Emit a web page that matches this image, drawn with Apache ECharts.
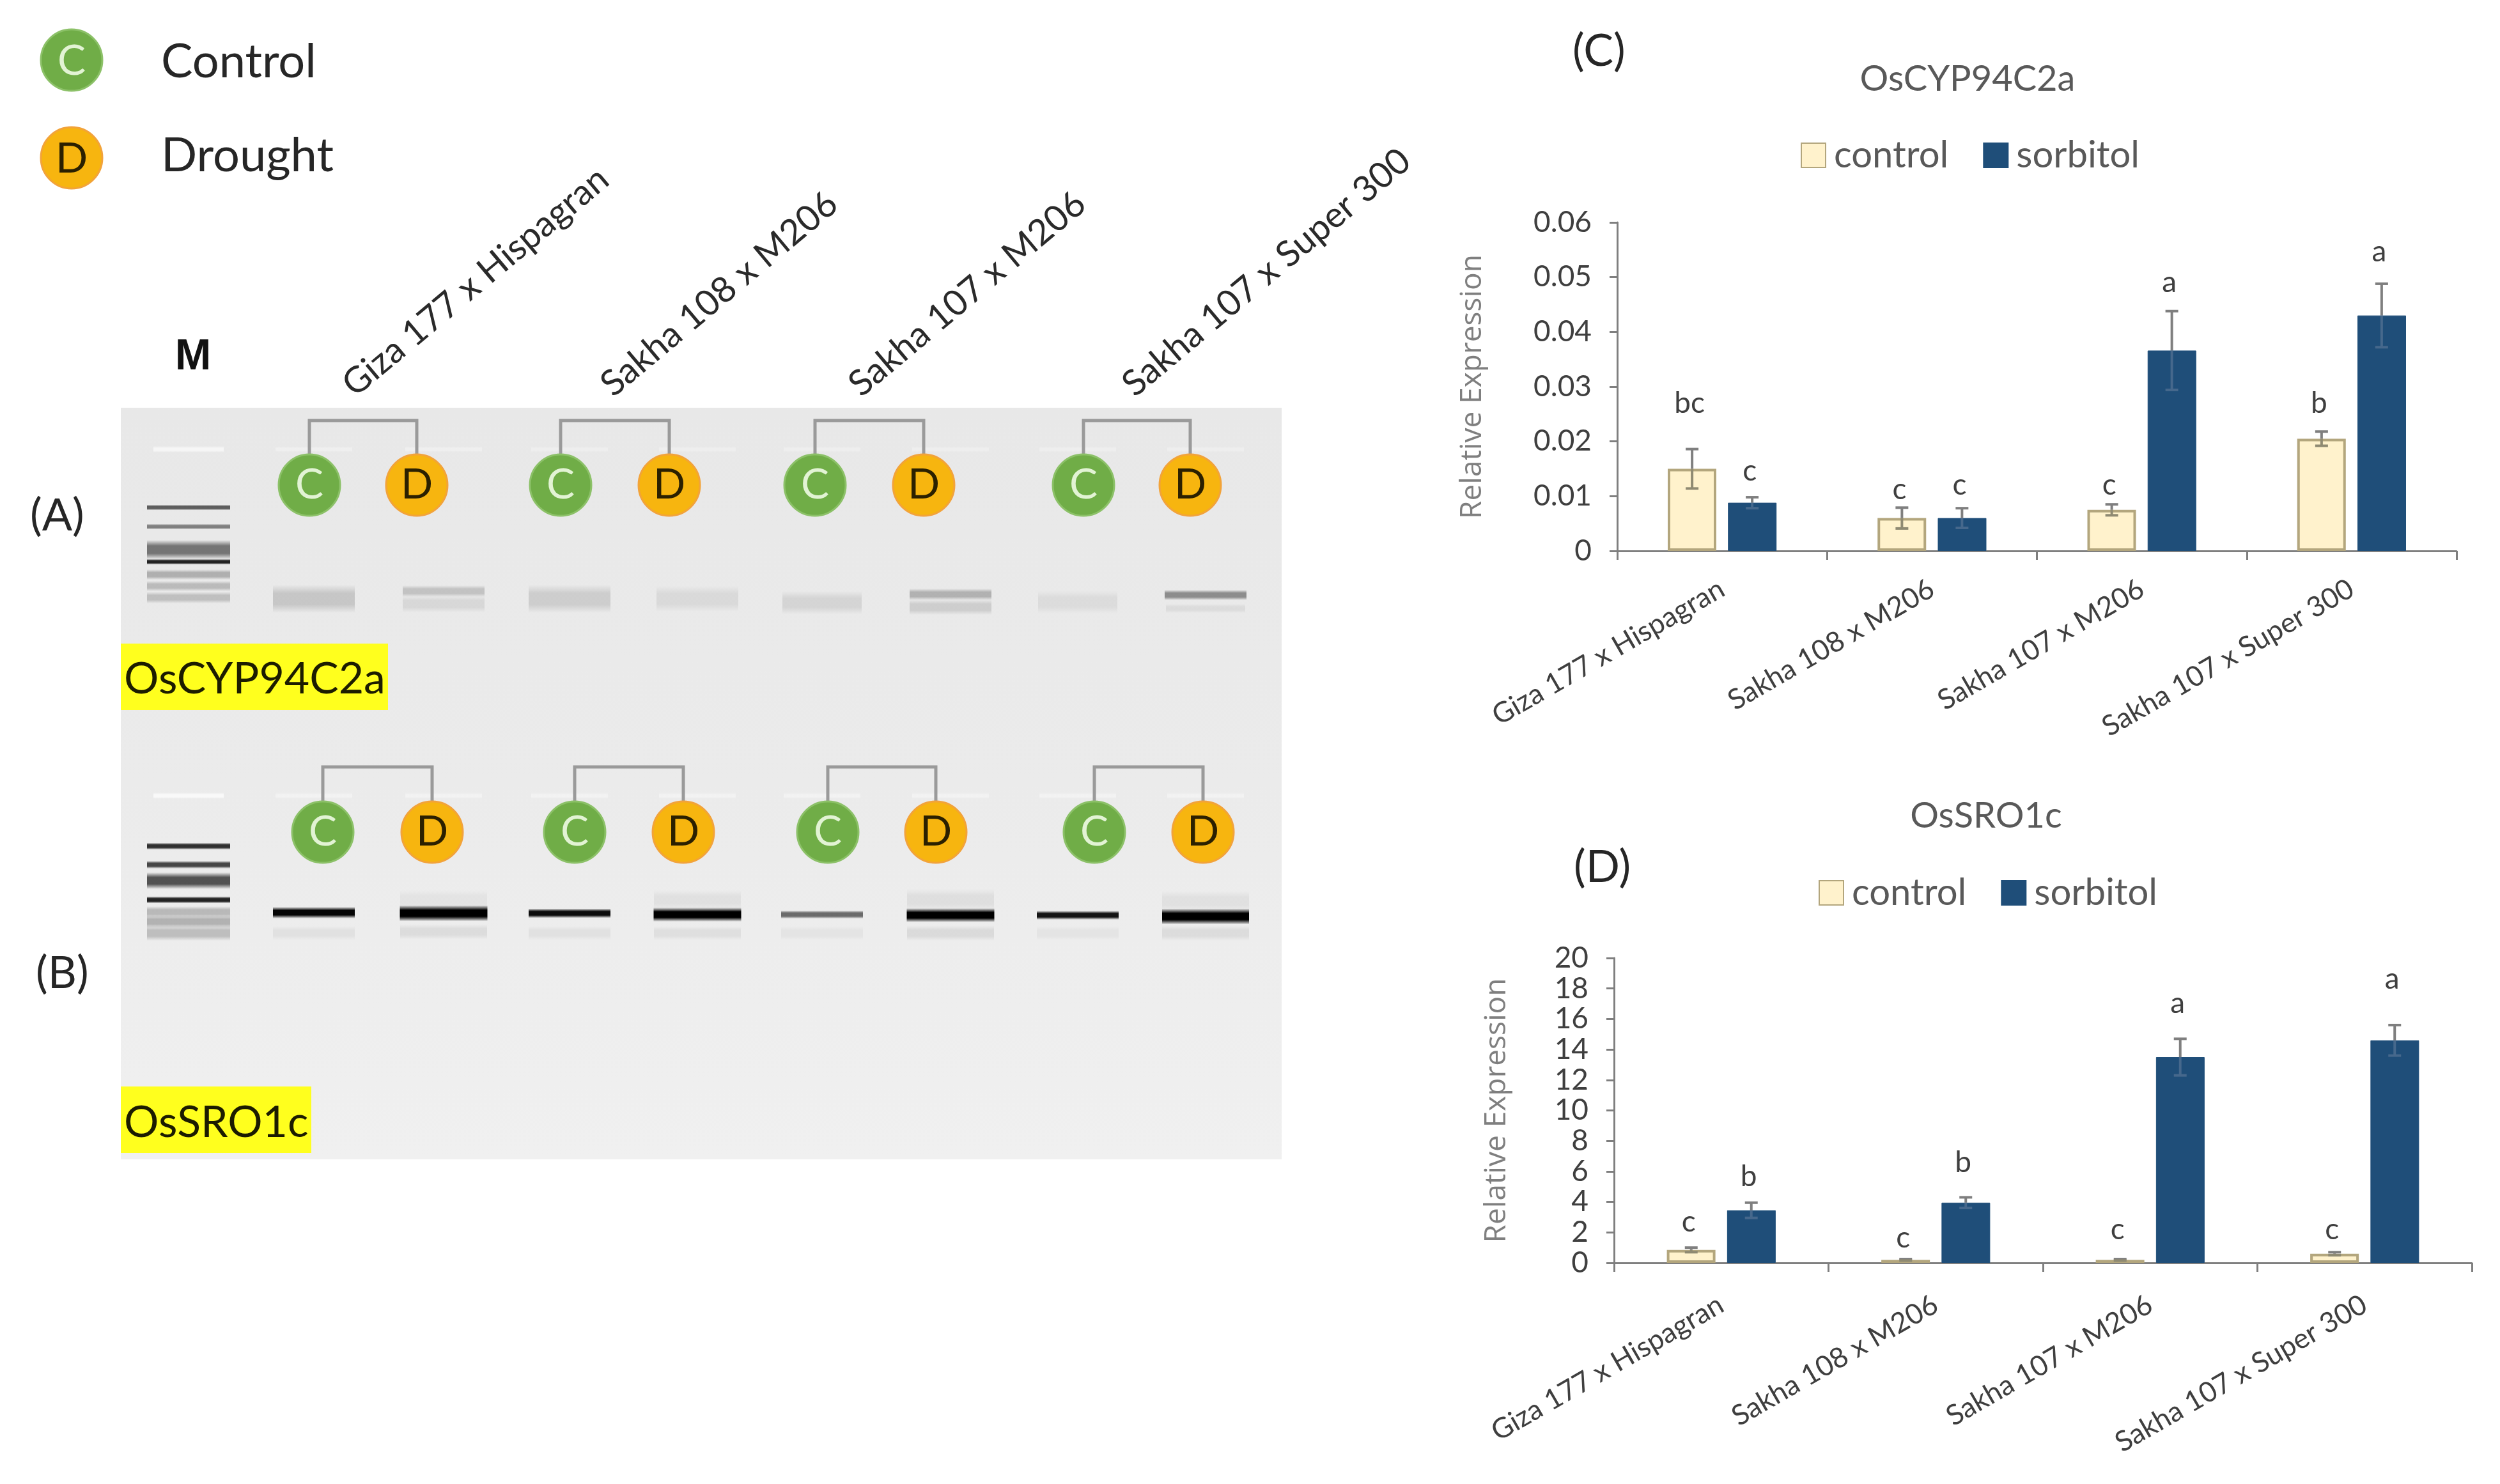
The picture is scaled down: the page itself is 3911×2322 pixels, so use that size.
<!DOCTYPE html>
<html>
<head>
<meta charset="utf-8">
<style>html,body{margin:0;padding:0;background:#fff}#chart{width:3911px;height:2322px}</style>
<script src="https://cdn.jsdelivr.net/npm/echarts@6/dist/echarts.min.js"></script>
</head>
<body>
<div id="chart"></div>
<script>
// ---------- data ----------
const categories = ['Giza 177 x Hispagran', 'Sakha 108 x M206', 'Sakha 107 x M206', 'Sakha 107 x Super 300'];
const seriesNames = ['control', 'sorbitol'];

const cypControl = [0.015, 0.006, 0.0075, 0.0205];
const cypSorbitol = [0.0088, 0.006, 0.0366, 0.043];
const cypControlErr = [0.0036, 0.0019, 0.001, 0.0013];
const cypSorbitolErr = [0.001, 0.0018, 0.0072, 0.0058];
const cypControlLetters = ['bc', 'c', 'c', 'b'];
const cypSorbitolLetters = ['c', 'c', 'a', 'a'];
const cypControlLetterAt = [0.027, 0.0112, 0.012, 0.027];
const cypSorbitolLetterAt = [0.0146, 0.012, 0.049, 0.0546];
const cypTicks = [0, 0.01, 0.02, 0.03, 0.04, 0.05, 0.06];

const sroControl = [0.85, 0.2, 0.2, 0.6];
const sroSorbitol = [3.45, 3.95, 13.5, 14.6];
const sroControlErr = [0.15, 0.05, 0.05, 0.1];
const sroSorbitolErr = [0.5, 0.35, 1.2, 1.0];
const sroControlLetters = ['c', 'c', 'c', 'c'];
const sroSorbitolLetters = ['b', 'b', 'a', 'a'];
const sroControlLetterAt = [2.67, 1.62, 2.16, 2.16];
const sroSorbitolLetterAt = [5.67, 6.58, 17.0, 18.6];
const sroTicks = [0, 2, 4, 6, 8, 10, 12, 14, 16, 18, 20];

// gel: lane centre, migration distance, band thickness, darkness, band width (gel units)
const gelBands = [
  // panel A ladder
  [106,156,9,.6,130],[106,186,9,.45,130],[106,222,30,.5,130],[106,241,9,.85,130],[106,261,16,.25,130],[106,279,16,.2,130],[106,297,18,.18,130],
  // panel A samples
  [302,299,44,.15,128],[505,287,18,.17,128],[505,307,26,.08,128],[702,299,44,.12,128],[902,299,40,.07,128],
  [1097,305,36,.09,124],[1298,292,18,.24,128],[1298,312,24,.12,128],[1497,304,36,.06,124],[1697,293,16,.4,128],[1697,314,14,.06,124],
  // panel B ladder
  [106,686,11,.8,130],[106,715,12,.7,130],[106,740,26,.65,130],[106,770,11,.85,130],[106,789,18,.22,130],[106,804,20,.25,130],[106,822,24,.2,130],
  // panel B smears
  [302,822,22,.05,128],[505,820,24,.07,136],[702,822,22,.05,128],[902,822,22,.06,136],[1097,822,22,.04,128],[1298,822,24,.08,136],[1497,822,22,.04,128],[1697,822,24,.07,136],
  [505,770,30,.04,136],[902,770,30,.05,136],[1298,770,34,.06,136],[1697,772,32,.05,136],
  // panel B samples
  [302,790,18,.98,128],[505,791,25,1,137],[702,791,15,.95,128],[902,793,22,1,137],[1097,793,13,.55,128],[1298,794,22,1,137],[1497,794,14,.92,128],[1697,796,25,1,136]
];
// sample wells, paler than the gel: lane centre, distance, thickness, strength, width
const gelWells = [
  [106,65,10,.6,110],[302,65,9,.3,120],[505,65,9,.3,120],[702,65,9,.25,120],[902,65,9,.25,120],[1097,65,9,.25,120],[1298,65,9,.25,120],[1497,65,9,.25,120],[1697,65,9,.25,120],
  [106,607,10,.7,110],[302,607,10,.35,120],[505,607,10,.35,120],[702,607,10,.35,120],[902,607,10,.35,120],[1097,607,10,.35,120],[1298,607,10,.35,120],[1497,607,10,.35,120],[1697,607,10,.35,120]
];
// C / D tag positions (gel units)
const tagsC = [[295,121],[688,121],[1086,121],[1506,121],[316,664],[710,664],[1106,664],[1523,664]];
const tagsD = [[463,121],[858,121],[1256,121],[1673,121],[487,664],[880,664],[1275,664],[1693,664]];
const bracketTop = [20, 20, 20, 20, 562, 562, 562, 562];

const gelLabels = categories;
const legendLabels = ['Control', 'Drought'];

// ---------- styles ----------
const FONT = 'Lato';
const TEXT = '#3f3f3f';
const GREY = '#595959';
const GREEN = '#70ad47';
const ORANGE = '#f7b50f';
const NAVY = '#1f4e79';
const CREAM = '#fff2cc';
const CREAM_EDGE = '#b3a67d';
const BAR_OFFSET = 47;

function errSeries(idx, side, vals, errs, letters, at) {
  return {
    type: 'custom', xAxisIndex: idx, yAxisIndex: idx, z: 5, silent: true,
    data: vals.map((v, i) => [i, v, errs[i], at[i], letters[i]]),
    encode: { x: 0, y: 1 },
    renderItem(p, api) {
      const c = api.coord([api.value(0), api.value(1)]);
      const x = c[0] + side * BAR_OFFSET;
      const hi = api.coord([0, api.value(1) + api.value(2)])[1];
      const lo = api.coord([0, api.value(1) - api.value(2)])[1];
      const ly = api.coord([0, api.value(3)])[1];
      const st = { stroke: '#7f7f7f', lineWidth: 4, fill: null };
      const under = { stroke: side > 0 ? '#46688c' : '#8f8a72', lineWidth: 4, fill: null };
      return { type: 'group', children: [
        { type: 'line', shape: { x1: x, y1: hi, x2: x, y2: c[1] }, style: st },
        { type: 'line', shape: { x1: x, y1: c[1], x2: x, y2: lo }, style: under },
        { type: 'line', shape: { x1: x - 10, y1: hi, x2: x + 10, y2: hi }, style: st },
        { type: 'line', shape: { x1: x - 10, y1: lo, x2: x + 10, y2: lo }, style: under },
        { type: 'text', x: x - 4, y: ly, style: { text: letters[p.dataIndex], fontFamily: FONT, fontSize: 46, fill: TEXT, align: 'center', verticalAlign: 'middle', textAlign: 'center', textVerticalAlign: 'middle' } }
      ] };
    }
  };
}
function bars(idx, name, vals, style) {
  return { type: 'bar', name, xAxisIndex: idx, yAxisIndex: idx, data: vals, barWidth: 76, barGap: '24%', itemStyle: style };
}
const ctrlStyle = { color: CREAM, borderColor: CREAM_EDGE, borderWidth: 4 };
const sorbStyle = { color: NAVY, borderColor: NAVY, borderWidth: 1 };

function xAxisFor(idx, margin, size) {
  return {
    type: 'category', gridIndex: idx, data: categories,
    axisLine: { lineStyle: { color: '#7f7f7f', width: 3 } },
    axisTick: { show: true, alignWithLabel: false, length: 14, lineStyle: { color: '#7f7f7f', width: 3 } },
    axisLabel: { rotate: 30, interval: 0, margin, fontFamily: FONT, fontSize: size, color: TEXT }
  };
}
function yAxisFor(idx, ticks, gap) {
  return {
    type: 'value', gridIndex: idx, min: ticks[0], max: ticks[ticks.length - 1], interval: ticks[1] - ticks[0],
    name: 'Relative Expression', nameLocation: 'middle', nameGap: gap,
    nameTextStyle: { fontFamily: 'Open Sans', fontSize: 46, color: '#7f7f7f' },
    splitLine: { show: false },
    axisLine: { show: true, lineStyle: { color: '#7f7f7f', width: 3 } },
    axisTick: { show: true, length: 12, lineStyle: { color: '#7f7f7f', width: 3 } },
    axisLabel: { margin: 40, fontFamily: FONT, fontSize: 46, color: TEXT, formatter: v => String(+v.toFixed(2)) }
  };
}
function legendAt(left, top) {
  return {
    left, top, orient: 'horizontal', data: seriesNames.map(name => ({ name, icon: 'rect' })), itemWidth: 38, itemHeight: 38, itemGap: 54, selectedMode: false,
    textStyle: { fontFamily: FONT, fontSize: 58, color: GREY, padding: [0, 0, 0, 8] }
  };
}
function gelBand(color) {
  return function (p, api) {
    const c = api.coord([api.value(0), api.value(1)]);
    const sx = api.size([1, 0])[0], sy = api.size([0, 1])[1];
    const w = api.value(4) * sx, h = api.value(2) * sy;
    const a = api.value(3);
    const col = o => `rgba(${color},${o})`;
    return { type: 'rect', shape: { x: c[0] - w / 2, y: c[1] - h / 2, width: w, height: h },
      style: { fill: { type: 'linear', x: 0, y: 0, x2: 0, y2: 1, colorStops: [
        { offset: 0, color: col(0) }, { offset: .3, color: col(a) }, { offset: .7, color: col(a) }, { offset: 1, color: col(0) }] } } };
  };
}
function gelTags(data, letter, fill, textCol, edge) {
  return {
    type: 'scatter', xAxisIndex: 2, yAxisIndex: 2, z: 6, silent: true, symbol: 'circle', symbolSize: 96, data,
    itemStyle: { color: fill, borderColor: edge, borderWidth: 3, opacity: 1 },
    label: { show: true, position: 'inside', formatter: letter, fontFamily: FONT, fontSize: 66, color: textCol }
  };
}
const bracketSeries = {
  type: 'custom', xAxisIndex: 2, yAxisIndex: 2, z: 4, silent: true,
  data: tagsC.map((c, i) => [c[0], c[1], tagsD[i][0], bracketTop[i]]),
  encode: { x: 0, y: 1 },
  renderItem(p, api) {
    const a = api.coord([api.value(0), api.value(1)]);
    const b = api.coord([api.value(2), api.value(1)]);
    const t = api.coord([0, api.value(3)])[1];
    return { type: 'polyline', shape: { points: [[a[0], a[1]], [a[0], t], [b[0], t], [b[0], b[1]]] },
      style: { stroke: '#9a9a9a', lineWidth: 5, fill: null } };
  }
};

function txt(text, x, y, size, opt) {
  opt = opt || {};
  const al = opt.align || 'left';
  return { type: 'text', x, y, rotation: opt.rotation || 0, z: 20, silent: true,
    style: { text, fontFamily: opt.family || FONT, fontSize: size, fontWeight: opt.weight || 'normal', fill: opt.fill || '#262626',
      align: al, verticalAlign: 'middle', textAlign: al, textVerticalAlign: 'middle' } };
}
const ROT = 40 * Math.PI / 180;
const gelLabelStart = [[544, 609], [948, 609], [1336, 609], [1764, 609]];

const graphic = [
  { type: 'circle', shape: { cx: 112, cy: 94, r: 48 }, z: 20, silent: true, style: { fill: GREEN, stroke: '#8cc168', lineWidth: 3 } },
  { type: 'circle', shape: { cx: 112, cy: 247, r: 48 }, z: 20, silent: true, style: { fill: ORANGE, stroke: '#f2a33a', lineWidth: 3 } },
  txt('C', 112, 96, 66, { align: 'center', fill: '#e2f3d4' }),
  txt('D', 112, 249, 66, { align: 'center', fill: '#2b2000' }),
  txt(legendLabels[0], 252, 97, 74),
  txt(legendLabels[1], 252, 244, 74),
  txt('M', 302, 559, 68, { align: 'center', weight: 'bold', fill: '#111', family: 'Liberation Sans' }),
  txt('(A)', 47, 807, 70),
  txt('(B)', 56, 1523, 70),
  txt('(C)', 2460, 80, 70),
  txt('(D)', 2462, 1357, 70),
  { type: 'rect', shape: { x: 189, y: 1007, width: 418, height: 104 }, z: 19, silent: true, style: { fill: '#ffff1e' } },
  { type: 'rect', shape: { x: 189, y: 1700, width: 298, height: 104 }, z: 19, silent: true, style: { fill: '#ffff1e' } },
  txt('OsCYP94C2a', 194, 1063, 68, { fill: '#1c1c00' }),
  txt('OsSRO1c', 194, 1757, 68, { fill: '#1c1c00' })
].concat(gelLabels.map((t, i) => txt(t, gelLabelStart[i][0], gelLabelStart[i][1], 56, { rotation: ROT, fill: '#2a2a2a' })));

const option = {
  animation: false,
  backgroundColor: '#ffffff',
  title: [
    { text: 'OsCYP94C2a', left: 3073, top: 91, textAlign: 'center', textStyle: { fontFamily: FONT, fontSize: 56, fontWeight: 'normal', color: GREY } },
    { text: 'OsSRO1c', left: 3102, top: 1244, textAlign: 'center', textStyle: { fontFamily: FONT, fontSize: 56, fontWeight: 'normal', color: GREY } }
  ],
  legend: [legendAt(2812, 209), legendAt(2840, 1363)],
  grid: [
    { left: 2530, top: 348, width: 1313, height: 514 },
    { left: 2525, top: 1499, width: 1342, height: 477 },
    { left: 189, top: 638, width: 1816, height: 1176, show: true, borderWidth: 0,
      backgroundColor: { type: 'linear', x: 0, y: 0, x2: 0, y2: 1, colorStops: [{ offset: 0, color: '#e8e8e8' }, { offset: .5, color: '#ebebeb' }, { offset: 1, color: '#f0f0f0' }] } }
  ],
  xAxis: [xAxisFor(0, 56, 44), xAxisFor(1, 62, 44), { type: 'value', gridIndex: 2, min: 0, max: 1816, show: false }],
  yAxis: [yAxisFor(0, cypTicks, 203), yAxisFor(1, sroTicks, 160), { type: 'value', gridIndex: 2, min: 0, max: 1176, inverse: true, show: false }],
  series: [
    bars(0, 'control', cypControl, ctrlStyle),
    bars(0, 'sorbitol', cypSorbitol, sorbStyle),
    errSeries(0, -1, cypControl, cypControlErr, cypControlLetters, cypControlLetterAt),
    errSeries(0, 1, cypSorbitol, cypSorbitolErr, cypSorbitolLetters, cypSorbitolLetterAt),
    bars(1, 'control', sroControl, ctrlStyle),
    bars(1, 'sorbitol', sroSorbitol, sorbStyle),
    errSeries(1, -1, sroControl, sroControlErr, sroControlLetters, sroControlLetterAt),
    errSeries(1, 1, sroSorbitol, sroSorbitolErr, sroSorbitolLetters, sroSorbitolLetterAt),
    { type: 'custom', xAxisIndex: 2, yAxisIndex: 2, z: 2, silent: true, data: gelWells, encode: { x: 0, y: 1 }, renderItem: gelBand('255,255,255') },
    { type: 'custom', xAxisIndex: 2, yAxisIndex: 2, z: 3, silent: true, data: gelBands, encode: { x: 0, y: 1 }, renderItem: gelBand('0,0,0') },
    bracketSeries,
    gelTags(tagsC, 'C', GREEN, '#e2f3d4', '#8cc168'),
    gelTags(tagsD, 'D', ORANGE, '#2b2000', '#f2a33a')
  ],
  graphic
};
const chart = echarts.init(document.getElementById('chart'));
chart.setOption(option);
</script>
</body>
</html>
